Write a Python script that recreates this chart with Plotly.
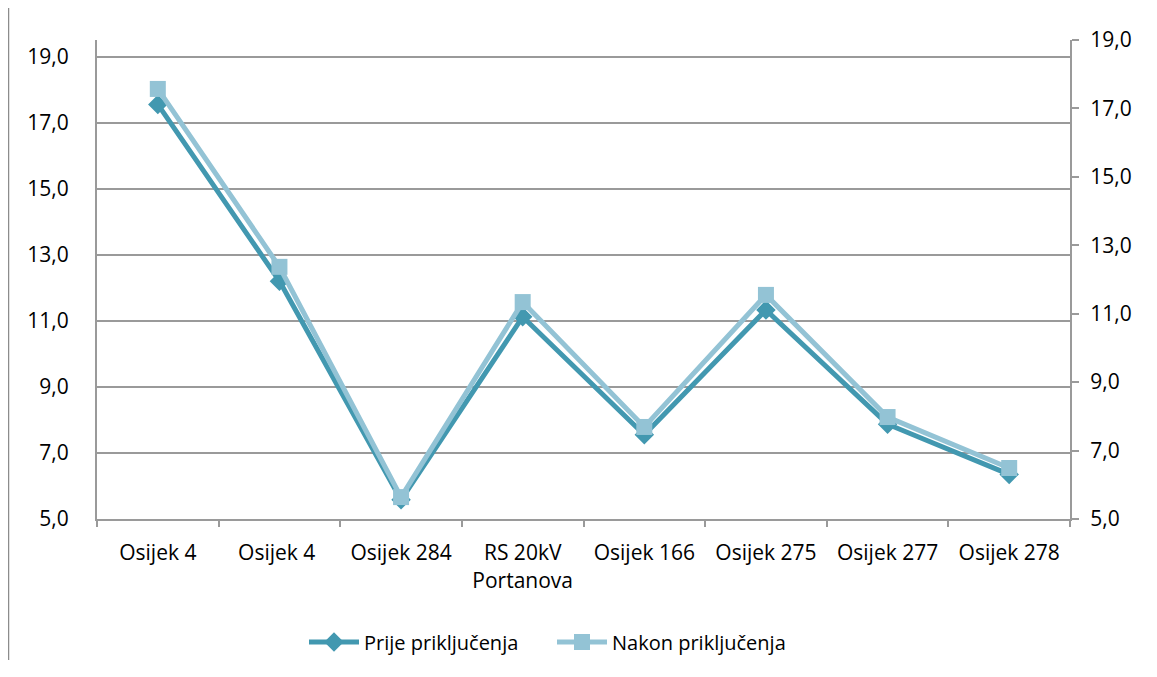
import plotly.graph_objects as go

categories = ["Osijek 4", "Osijek 4 ", "Osijek 284", "RS 20kV<br>Portanova", "Osijek 166",
              "Osijek 275", "Osijek 277", "Osijek 278"]
prije = [17.55, 12.2, 5.58, 11.12, 7.55, 11.33, 7.87, 6.35]
nakon = [17.57, 12.37, 5.64, 11.34, 7.69, 11.55, 7.98, 6.49]
tick_vals = [5, 7, 9, 11, 13, 15, 17, 19]

C_PRIJE = "#4298B0"
C_NAKON = "#93C3D5"
GRID = "#9A9A9A"
FONT = "Open Sans"
FS = 21

fig = go.Figure()
fig.add_trace(go.Scatter(
    x=categories, y=prije, name="Prije priključenja", mode="lines+markers",
    line=dict(color=C_PRIJE, width=5),
    marker=dict(symbol="diamond", size=15, color=C_PRIJE),
    yaxis="y"))
fig.add_trace(go.Scatter(
    x=categories, y=nakon, name="Nakon priključenja", mode="lines+markers",
    line=dict(color=C_NAKON, width=5),
    marker=dict(symbol="square", size=16, color=C_NAKON),
    yaxis="y2"))

# page has an 8px body margin, so the figure is sized/offset accordingly
W, H = 1149, 669
ml, mr, mt, mb = 89, 87, 32, 158
pw = W - ml - mr
ph = H - mt - mb

fig.update_layout(
    width=W, height=H,
    margin=dict(l=ml, r=mr, t=mt, b=mb, autoexpand=False),
    paper_bgcolor="white", plot_bgcolor="white",
    separators=",.",
    font=dict(family=FONT, size=FS, color="#000000"),
    showlegend=True,
    legend=dict(orientation="h", x=(304 - 8 - ml) / pw, xanchor="left", y=-0.257, yanchor="middle",
                font=dict(family=FONT, size=20), itemwidth=50, tracegroupgap=0,
                entrywidth=183, entrywidthmode="pixels"),
    xaxis=dict(
        type="category", showgrid=False, showline=True, linecolor=GRID, linewidth=2,
        ticks="outside", tickson="boundaries", ticklen=6, tickcolor=GRID, tickwidth=2,
        ticklabelstandoff=14,
        tickfont=dict(family=FONT, size=FS), range=[-0.5, 7.5], zeroline=False),
    yaxis=dict(
        range=[5, 19.5], tickvals=tick_vals, tickformat=".1f",
        showgrid=True, gridcolor=GRID, gridwidth=2,
        showline=True, linecolor=GRID, linewidth=2, ticks="",
        ticklabelstandoff=22, zeroline=False,
        tickfont=dict(family=FONT, size=FS)),
    yaxis2=dict(
        range=[5, 19], tickvals=tick_vals, tickformat=".1f", overlaying="y", side="right",
        showgrid=False, showline=True, linecolor=GRID, linewidth=2,
        ticks="outside", ticklen=7, tickcolor=GRID, tickwidth=2, zeroline=False,
        ticklabelstandoff=7,
        tickfont=dict(family=FONT, size=FS)),
)

# chart-area border on the left
fig.add_shape(type="line", xref="paper", yref="paper",
              x0=(0.5 - ml) / pw, x1=(0.5 - ml) / pw,
              y0=(H - mb - 652) / ph, y1=(H - mb) / ph,
              line=dict(color="#8C8C8C", width=1.5))

fig.write_html("out.html")
